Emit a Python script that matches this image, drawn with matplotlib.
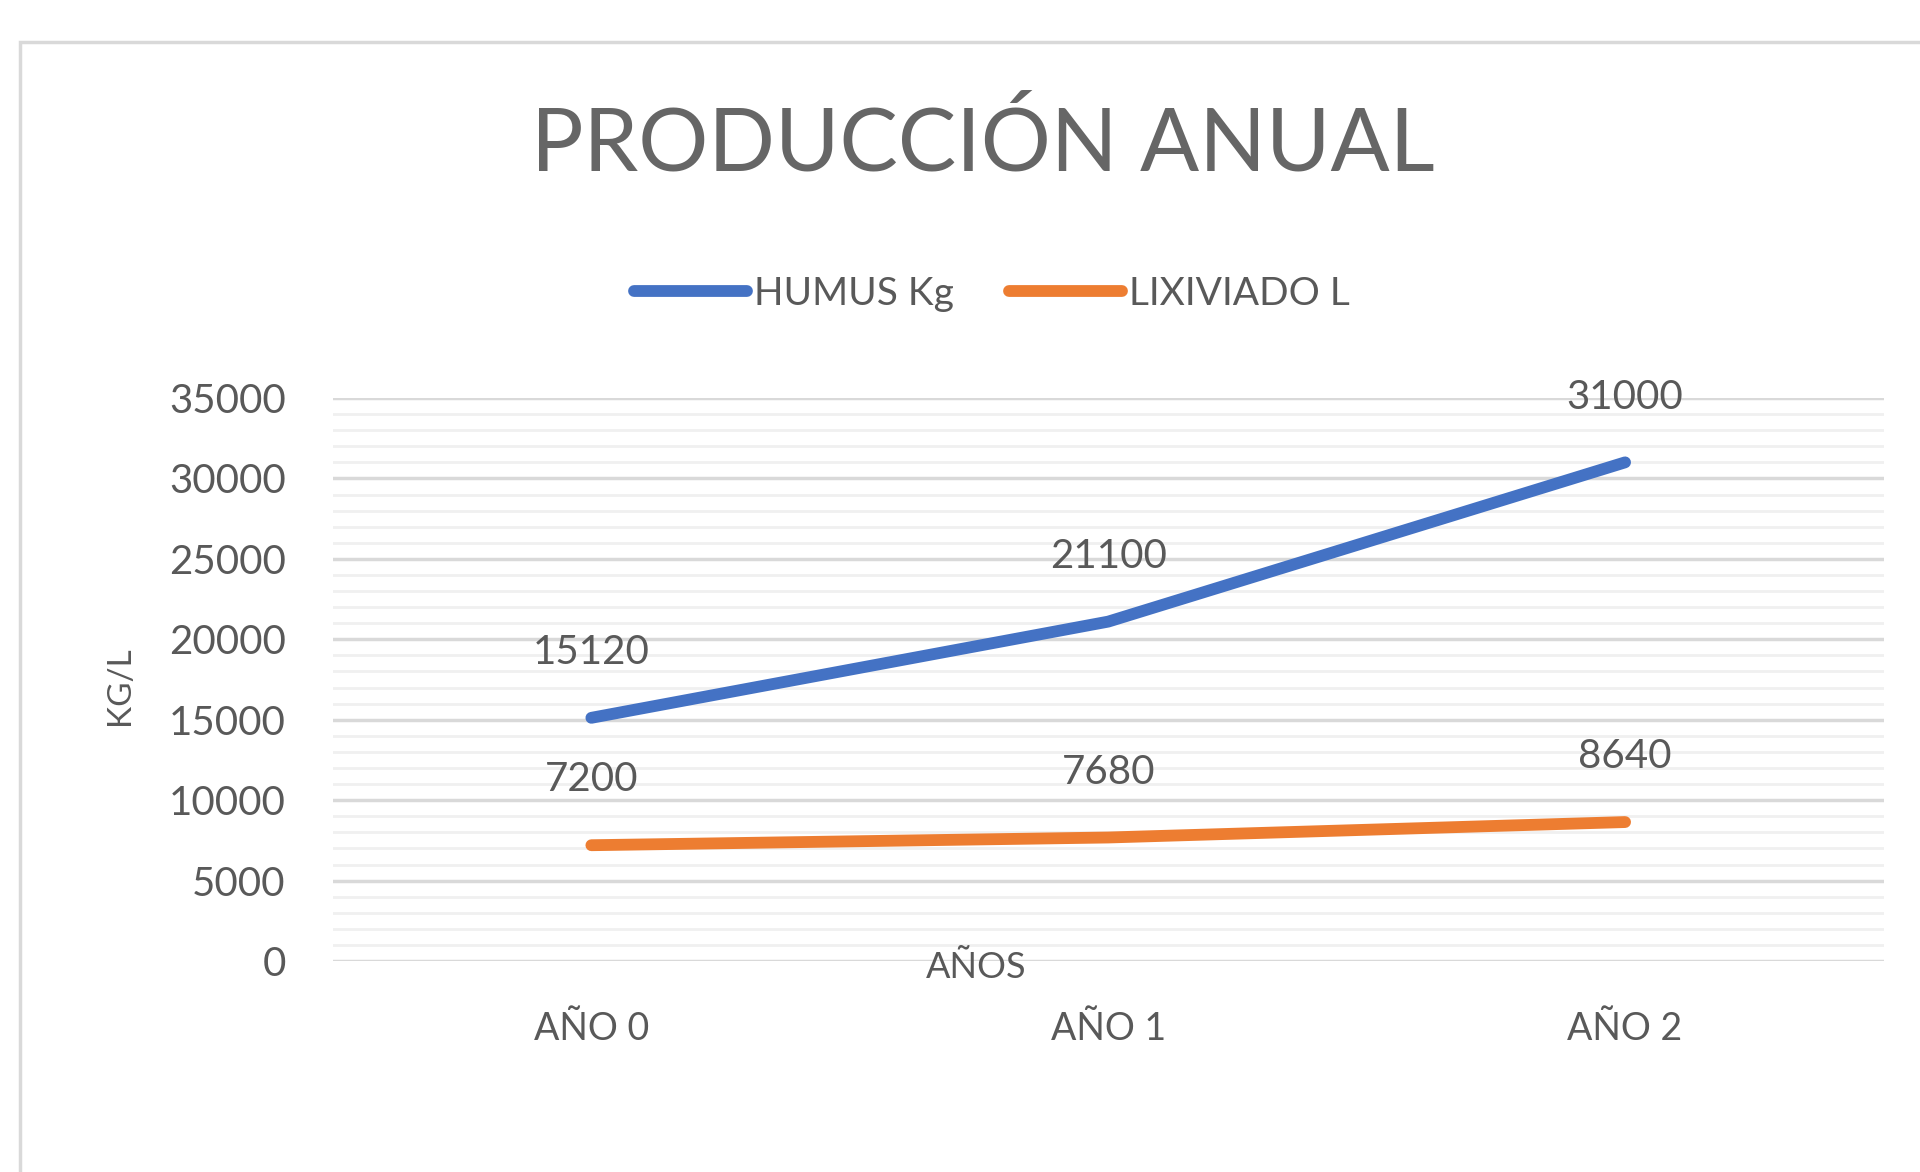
import matplotlib
matplotlib.use('Agg')
import matplotlib.pyplot as plt
from matplotlib.patches import Rectangle
from matplotlib.ticker import MultipleLocator

# datos del gráfico
anios = ["AÑO 0", "AÑO 1", "AÑO 2"]
humus_kg = [15120, 21100, 31000]
lixiviado_l = [7200, 7680, 8640]

plt.rcParams['font.family'] = ['Lato', 'DejaVu Sans']
txt_color = '#595959'
azul = '#4472C4'
naranja = '#ED7D31'

fig = plt.figure(figsize=(19.2, 11.72), dpi=100)
fig.patch.set_facecolor('white')

# marco del gráfico
marco_top = 1 - 42 / 1172
fig.patches.append(Rectangle((20 / 1920, -0.02), 1.05, marco_top + 0.02,
                             transform=fig.transFigure, fill=False,
                             edgecolor='#D9D9D9', linewidth=2.5))

ax = fig.add_axes([0.1734, 0.180, 0.8076, 0.4804])
x = list(range(len(anios)))

ax.plot(x, humus_kg, color=azul, linewidth=8.5, solid_capstyle='round',
        solid_joinstyle='round', label='HUMUS Kg', zorder=3)
ax.plot(x, lixiviado_l, color=naranja, linewidth=8.5, solid_capstyle='round',
        solid_joinstyle='round', label='LIXIVIADO L', zorder=3)

# etiquetas de datos
for serie in (humus_kg, lixiviado_l):
    for xi, v in zip(x, serie):
        ax.annotate(str(v), (xi, v), xytext=(0, 47), textcoords='offset points',
                    ha='center', va='center', fontsize=29, color=txt_color)

ax.set_xlim(-0.5, 2.5)
ax.set_ylim(0, 35000)
ax.yaxis.set_major_locator(MultipleLocator(5000))
ax.yaxis.set_minor_locator(MultipleLocator(1000))
ax.set_xticks(x)
ax.set_xticklabels(anios)
ax.grid(which='major', axis='y', color='#D9D9D9', linewidth=2.5)
ax.grid(which='minor', axis='y', color='#F0F0F0', linewidth=2)
ax.set_axisbelow(True)
for s in ax.spines.values():
    s.set_visible(False)
ax.tick_params(which='both', length=0)
ax.tick_params(axis='y', labelsize=29, labelcolor=txt_color, pad=34)
ax.tick_params(axis='x', labelsize=27, labelcolor=txt_color, pad=36)

# títulos
fig.text(983 / 1920, 1 - 145 / 1172, 'PRODUCCIÓN ANUAL', ha='center', va='center',
         fontsize=63, fontweight='normal', color='#666666')
fig.text(976 / 1920, 1 - 967 / 1172, 'AÑOS', ha='center', va='center',
         fontsize=26, color=txt_color)
fig.text(120 / 1920, 1 - 686 / 1172, 'KG/L', ha='center', va='center',
         fontsize=24, color=txt_color, rotation=90)

fig.legend(loc='center', bbox_to_anchor=(992 / 1920, 1 - 294 / 1172), ncol=2,
           frameon=False, fontsize=28, labelcolor=txt_color, handlelength=2.9,
           handletextpad=0.2, columnspacing=1.4)

fig.savefig('out.png', dpi=100)
